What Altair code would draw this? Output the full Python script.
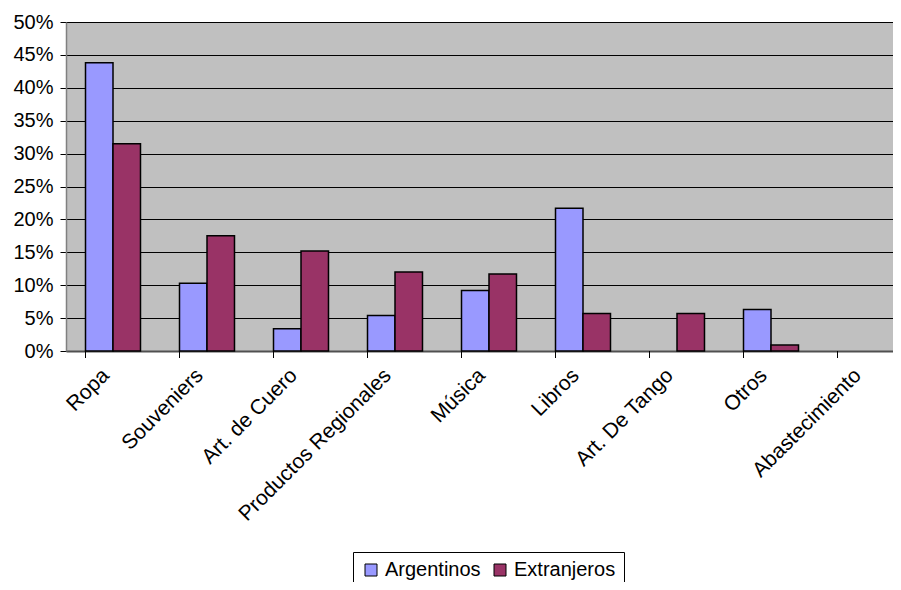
import altair as alt
import pandas as pd

categories = ["Ropa", "Souveniers", "Art. de Cuero", "Productos Regionales", "Música",
              "Libros", "Art. De Tango", "Otros", "Abastecimiento"]
argentinos = [0.438, 0.103, 0.034, 0.054, 0.092, 0.217, 0.0, 0.063, 0.0]
extranjeros = [0.315, 0.175, 0.152, 0.120, 0.117, 0.057, 0.057, 0.009, 0.0]
series = ["Argentinos", "Extranjeros"]
colors = ["#9999FF", "#993366"]
y_ticks = [0, 0.05, 0.10, 0.15, 0.20, 0.25, 0.30, 0.35, 0.40, 0.45, 0.50]

rows = []
for c, a, e in zip(categories, argentinos, extranjeros):
    rows.append({"cat": c, "serie": series[0], "val": a})
    rows.append({"cat": c, "serie": series[1], "val": e})
df = pd.DataFrame(rows)
cats_df = pd.DataFrame({"cat": categories})

FONT = "Liberation Sans"
H = 329
W = 846

x_scale = alt.Scale(domain=categories, paddingInner=0.415, paddingOuter=0.2075)
x_axis = alt.Axis(title=None, labelAngle=-45, labelAlign="right", labelBaseline="middle",
                  labelPadding=21, labelOffset=-7, ticks=False, labelFontSize=21,
                  labelFont=FONT, labelColor="black", domainColor="#505050",
                  domainWidth=2, labelLimit=400)

bars = alt.Chart(df).transform_filter("datum.val > 0").mark_bar(
    stroke="black", strokeWidth=1.5).encode(
    x=alt.X("cat:N", sort=categories, scale=x_scale, axis=x_axis),
    xOffset=alt.XOffset("serie:N", sort=series,
                        scale=alt.Scale(domain=series, paddingInner=0, paddingOuter=0)),
    y=alt.Y("val:Q", scale=alt.Scale(domain=[0, 0.5], nice=False),
            axis=alt.Axis(title=None, values=y_ticks, format=".0%", grid=True,
                          gridColor="black", gridWidth=1, tickColor="black",
                          tickSize=6, labelFontSize=20, labelFont=FONT,
                          labelColor="black", labelPadding=7,
                          domainColor="#808080", domainWidth=1.5)),
    color=alt.Color("serie:N", sort=series,
                    scale=alt.Scale(domain=series, range=colors),
                    legend=alt.Legend(title=None, orient="none", legendX=287, legendY=530,
                                      direction="horizontal", symbolType="square",
                                      symbolSize=144, symbolStrokeColor="black",
                                      symbolStrokeWidth=1, labelFontSize=20,
                                      labelFont=FONT, labelColor="black",
                                      labelOffset=4, columnPadding=9, padding=8,
                                      strokeColor="black", fillColor="white",
                                      labelLimit=300)),
)

ticks = alt.Chart(cats_df).mark_rule(color="black", strokeWidth=1).encode(
    x=alt.X("cat:N", sort=categories, scale=x_scale, axis=x_axis, bandPosition=0),
    y=alt.value(H),
    y2=alt.value(H + 7),
)

chart = alt.layer(bars, ticks).properties(
    width=W, height=H,
    autosize=alt.AutoSizeParams(type="none"),
    padding={"left": 58, "top": 14, "right": -19, "bottom": 231},
    background="white",
).configure_view(fill="#C0C0C0", stroke="#808080", strokeWidth=1)

chart.save("out.html", embed_options={"renderer": "svg", "actions": False})
